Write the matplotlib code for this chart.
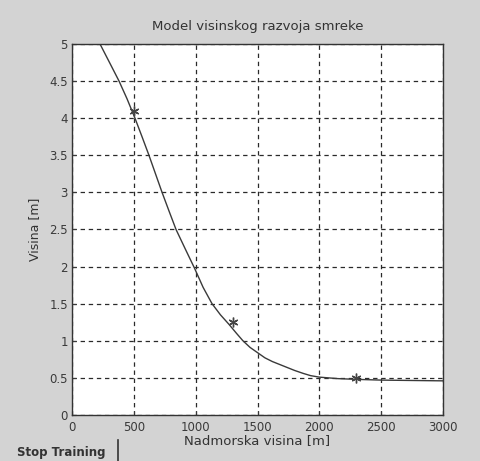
import matplotlib
matplotlib.use("Agg")
import matplotlib.pyplot as plt

plt.rcParams['font.family'] = ['DejaVu Sans']

# data
curve_x = [226, 300, 380, 445, 509, 566, 622, 675, 728, 784, 841, 915, 990, 1060, 1132, 1200, 1270,
           1330, 1382, 1440, 1500, 1560, 1620, 1680, 1740, 1800, 1870, 1930, 2000, 2150, 2300, 2500, 2750, 3000]
curve_y = [5.0, 4.76, 4.5, 4.26, 4.0, 3.75, 3.5, 3.25, 3.0, 2.75, 2.5, 2.24, 1.98, 1.72, 1.5, 1.35, 1.22,
           1.1, 1.0, 0.91, 0.84, 0.77, 0.72, 0.68, 0.64, 0.6, 0.56, 0.53, 0.51, 0.49, 0.48, 0.47, 0.465, 0.46]
pts_x = [500, 1300, 2300]
pts_y = [4.1, 1.25, 0.5]
xticks = [0, 500, 1000, 1500, 2000, 2500, 3000]
yticks = [0, 0.5, 1, 1.5, 2, 2.5, 3, 3.5, 4, 4.5, 5]
ytick_labels = ["0", "0.5", "1", "1.5", "2", "2.5", "3", "3.5", "4", "4.5", "5"]

bg = "#d3d3d3"
fig = plt.figure(figsize=(4.8, 4.61), dpi=100, facecolor=bg)
ax = fig.add_axes([0.15, 0.0998, 0.773, 0.805])
ax.set_facecolor("white")

ax.plot(curve_x, curve_y, color="#3a3a3a", lw=1.0)
ax.plot(pts_x, pts_y, linestyle="none", marker=(6, 2, 0), color="#444444", ms=7, mew=1.0)

ax.set_xlim(0, 3000)
ax.set_ylim(0, 5)
ax.set_xticks(xticks)
ax.set_yticks(yticks)
ax.set_yticklabels(ytick_labels)
ax.grid(True, color="#2a2a2a", linestyle=(0, (3.5, 3)), lw=0.9)
ax.tick_params(labelsize=8.5, colors="#3a3a3a", length=3, direction="in")
ax.tick_params(axis="x", pad=4)
ax.tick_params(axis="y", pad=3)
for s in ax.spines.values():
    s.set_color("#333333")
    s.set_linewidth(1.0)

ax.set_title("Model visinskog razvoja smreke", fontsize=9.5, color="#333333", pad=10)
ax.set_xlabel("Nadmorska visina [m]", fontsize=9.5, color="#333333", labelpad=0)
ax.set_ylabel("Visina [m]", fontsize=9, color="#333333", labelpad=6)

fig.text(0.035, 0.01, "Stop Training", fontsize=8.5, fontweight="bold", color="#333333")
fig.add_artist(plt.Line2D([0.246, 0.246], [0.0, 0.045], color="#333333", lw=1.2))

fig.savefig("out.png", dpi=100, facecolor=bg)
